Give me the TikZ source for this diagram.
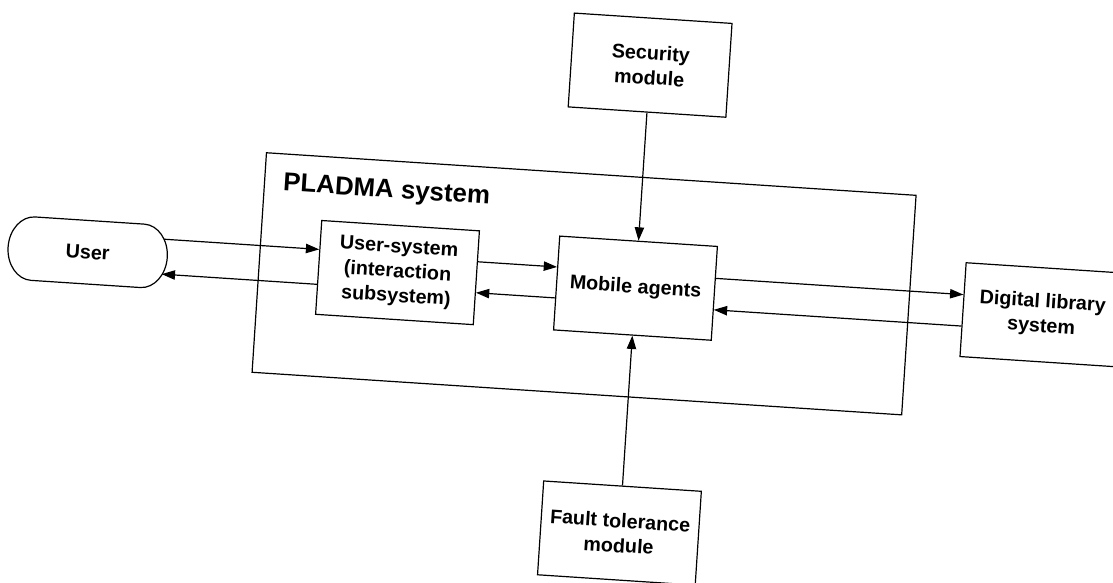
\documentclass[tikz,border=0pt]{standalone}
\usepackage{fontspec}
\setmainfont{Liberation Sans}
\usetikzlibrary{arrows.meta,calc}

\tikzset{
  frame/.style={draw, line width=0.9pt, inner sep=0pt},
  unitbox/.style={frame, minimum width=118.5pt, minimum height=70.5pt,
    align=center, font=\fontsize{14.8}{18.5}\selectfont\bfseries},
  flow/.style={line width=0.9pt, -{Triangle[length=10pt,width=7pt]}},
}

\begin{document}
\begin{tikzpicture}[x=0.75pt, y=-0.75pt]
\fill[white] (0,0) rectangle (1113,582);
\useasboundingbox (0,0) rectangle (1113,582);

% the whole diagram sits slightly tilted on the page
\begin{scope}[rotate=-3.75, transform shape]

  % system boundary and its title
  \node[frame, minimum width=488.25pt, minimum height=165pt] (pladma) at (601.4,245) {};
  \node[anchor=base west, inner sep=0pt, font=\fontsize{19.4}{23}\selectfont\bfseries]
    (title) at ($(pladma.north west)+(19.3,37.4)$) {PLADMA system};

  % components
  \node[minimum width=119.25pt, minimum height=47.25pt, inner sep=0pt,
        font=\fontsize{14.8}{18.5}\selectfont\bfseries] (user) at (104,246) {User};
  \node[unitbox] (us) at (414.5,246) {User-system\\(interaction\\subsystem)};
  \node[unitbox] (ma) at (653,246) {Mobile agents};
  \node[unitbox] (dl) at (1060.3,246) {Digital library\\system};
  \node[unitbox] (sec) at (653,22.5) {Security\\module};
  \node[unitbox] (ft) at (653,491.4) {Fault tolerance\\module};

  % terminator outline of the user node (elliptical ends)
  \draw[line width=0.9pt]
    ($(user.north west)!.157!(user.north east)$)
    -- ($(user.north east)!.157!(user.north west)$)
    .. controls ($(user.north east)!.07!(user.north west)$) and ($(user.east)!.552!(user.north east)$) .. (user.east)
    .. controls ($(user.east)!.552!(user.south east)$) and ($(user.south east)!.07!(user.south west)$) .. ($(user.south east)!.157!(user.south west)$)
    -- ($(user.south west)!.157!(user.south east)$)
    .. controls ($(user.south west)!.07!(user.south east)$) and ($(user.west)!.552!(user.south west)$) .. (user.west)
    .. controls ($(user.west)!.552!(user.north west)$) and ($(user.north west)!.07!(user.north east)$) .. ($(user.north west)!.157!(user.north east)$)
    -- cycle;

  % data flows
  \draw[flow] ($(user.east)+(-4.5,-18)$) -- ($(us.west)+(0,-18)$);
  \draw[flow] ($(us.west)+(0,17)$) -- ($(user.east)+(-4.5,17)$);
  \draw[flow] ($(us.east)+(0,-16)$) -- ($(ma.west)+(0,-16)$);
  \draw[flow] ($(ma.west)+(0,15)$) -- ($(us.east)+(0,15)$);
  \draw[flow] ($(ma.east)+(0,-15)$) -- ($(dl.west)+(0,-15)$);
  \draw[flow] ($(dl.west)+(0,16.5)$) -- ($(ma.east)+(0,16.5)$);
  \draw[flow] (sec.south) -- (ma.north);
  \draw[flow] (ft.north) -- (ma.south);

\end{scope}
\end{tikzpicture}
\end{document}
